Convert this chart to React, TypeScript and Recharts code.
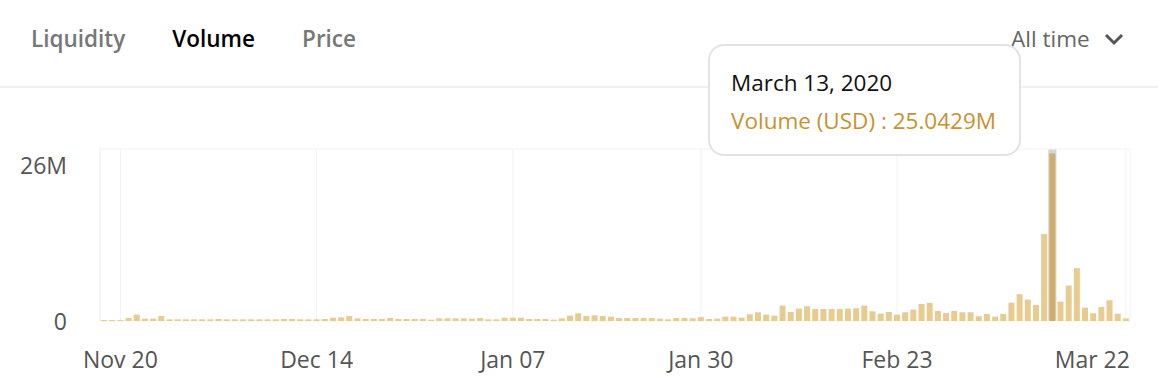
import { Bar, BarChart, CartesianGrid, Tooltip, XAxis, YAxis } from "recharts";

// daily volume in millions of USD, Nov 18 2019 .. Mar 22 2020
const novVolume = [
    0.15, 0.15, 0.15, 0.45, 0.95, 0.35, 0.35, 0.75, 0.25, 0.25, 0.25, 0.25, 0.25,
];
const decVolume = [
    0.25, 0.3, 0.25, 0.25, 0.25, 0.25, 0.25, 0.25, 0.25, 0.3, 0.3, 0.25, 0.25,
    0.25, 0.3, 0.5, 0.55, 0.75, 0.4, 0.3, 0.3, 0.3, 0.45, 0.3, 0.3, 0.3, 0.3,
    0.2, 0.4, 0.4, 0.4,
];
const janVolume = [
    0.4, 0.35, 0.45, 0.25, 0.25, 0.5, 0.5, 0.5, 0.3, 0.3, 0.3, 0.2, 0.4, 0.8,
    1.15, 0.75, 0.85, 0.75, 0.65, 0.45, 0.45, 0.45, 0.45, 0.45, 0.35, 0.25,
    0.45, 0.45, 0.4, 0.6, 0.3,
];
const febVolume = [
    0.35, 0.65, 0.65, 0.5, 1.0, 1.3, 0.95, 0.8, 2.3, 1.35, 1.85, 2.2, 1.8, 1.8,
    1.8, 1.8, 1.85, 1.9, 2.3, 1.45, 1.1, 1.35, 0.95, 1.3, 1.7, 2.55, 2.7, 1.5,
    1.2,
];
const marVolume = [
    1.5, 1.3, 1.3, 0.7, 1.05, 0.65, 1.05, 2.75, 4.0, 3.2, 2.4, 13.0, 25.0429,
    2.9, 5.3, 7.9, 2.0, 1.15, 2.1, 3.1, 1.1, 0.4,
];

const xTicks = ["Nov 20", "Dec 14", "Jan 07", "Jan 30", "Feb 23", "Mar 22"];
const yTicks = [0, 25.7];
const tabs = ["Liquidity", "Volume", "Price"];
const activeTab = "Volume";
const hoverIndex = 116;

const SHORT = ["Jan", "Feb", "Mar", "Apr", "May", "Jun", "Jul", "Aug", "Sep", "Oct", "Nov", "Dec"];
const LONG = [
    "January", "February", "March", "April", "May", "June",
    "July", "August", "September", "October", "November", "December",
];

const volumes = [...novVolume, ...decVolume, ...janVolume, ...febVolume, ...marVolume];

const data = volumes.map((volume, i) => {
    const d = new Date(2019, 10, 18 + i);
    const day = d.getDate();
    return {
        date: `${SHORT[d.getMonth()]} ${String(day).padStart(2, "0")}`,
        full: `${LONG[d.getMonth()]} ${day}, ${d.getFullYear()}`,
        volume,
    };
});

const FONT = '"Open Sans", "Segoe UI", sans-serif';

function XTick(props: any) {
    const { x, y, payload } = props;
    const last = payload.value === xTicks[xTicks.length - 1];
    return (
        <text
            x={last ? x + 4 : x}
            y={y + 30}
            textAnchor={last ? "end" : "middle"}
            dominantBaseline="central"
            fill="#555"
            fontSize={23}
            fontFamily={FONT}
        >
            {payload.value}
        </text>
    );
}

function YTick(props: any) {
    const { x, y, payload } = props;
    return (
        <text
            x={x - 25}
            y={payload.value > 0 ? y + 16 : y}
            textAnchor="end"
            dominantBaseline="central"
            fill="#555"
            fontSize={23}
            fontFamily={FONT}
        >
            {payload.value > 0 ? `${Math.round(payload.value)}M` : "0"}
        </text>
    );
}

function VolumeTooltip({ active, payload }: any) {
    if (!active || !payload || !payload.length) return null;
    const row = payload[0].payload;
    return (
        <div
            style={{
                width: 309,
                height: 108,
                boxSizing: "content-box",
                background: "#fff",
                border: "2px solid #e3e3e3",
                borderRadius: 16,
                fontFamily: FONT,
                fontSize: 22.5,
                position: "relative",
                whiteSpace: "nowrap",
            }}
        >
            <div style={{ position: "absolute", left: 21, top: 21, color: "#111" }}>
                {row.full}
            </div>
            <div style={{ position: "absolute", left: 21, top: 59, color: "#c8922f" }}>
                Volume (USD) : {row.volume}M
            </div>
        </div>
    );
}

export default function App() {
    return (
        <div
            style={{
                position: "absolute",
                left: 0,
                top: 0,
                width: 1158,
                height: 391,
                background: "#fff",
                overflow: "hidden",
                fontFamily: FONT,
            }}
        >
            <div style={{ position: "absolute", left: 31, top: 23, display: "flex", gap: 47 }}>
                {tabs.map((tab) => (
                    <span
                        key={tab}
                        style={{
                            fontSize: 22.5,
                            fontWeight: 600,
                            color: tab === activeTab ? "#000" : "#777",
                        }}
                    >
                        {tab}
                    </span>
                ))}
            </div>

            <div
                style={{
                    position: "absolute",
                    left: 1011,
                    top: 23,
                    fontSize: 22.5,
                    color: "#666",
                    display: "flex",
                    alignItems: "center",
                }}
            >
                All time
                <svg width="22" height="22" viewBox="0 0 22 22" style={{ marginLeft: 13 }}>
                    <path
                        d="M3 7 L11 15 L19 7"
                        fill="none"
                        stroke="#555"
                        strokeWidth={3}
                    />
                </svg>
            </div>

            <div
                style={{
                    position: "absolute",
                    left: 0,
                    top: 86,
                    width: 1158,
                    height: 2,
                    background: "#f0f0f0",
                }}
            />

            <div style={{ position: "absolute", left: 0, top: 0 }}>
                <BarChart
                    width={1158}
                    height={391}
                    data={data}
                    margin={{ top: 149, right: 28, bottom: 0, left: 0 }}
                    barCategoryGap="13%"
                >
                    <CartesianGrid stroke="#f2f2f2" />
                    <XAxis
                        dataKey="date"
                        ticks={xTicks}
                        interval={0}
                        height={70}
                        axisLine={false}
                        tickLine={false}
                        tick={<XTick />}
                    />
                    <YAxis
                        width={100}
                        domain={[0, 25.7]}
                        ticks={yTicks}
                        axisLine={{ stroke: "#f2f2f2" }}
                        tickLine={false}
                        tick={<YTick />}
                    />
                    <Tooltip
                        defaultIndex={hoverIndex}
                        active
                        position={{ x: 708, y: 44 }}
                        cursor={{ fill: "#d5d5d5" }}
                        content={<VolumeTooltip />}
                        isAnimationActive={false}
                        wrapperStyle={{ outline: "none" }}
                    />
                    <Bar
                        dataKey="volume"
                        fill="#e8cb8f"
                        activeBar={{ fill: "#cfae6d" }}
                        isAnimationActive={false}
                    />
                </BarChart>
            </div>
        </div>
    );
}
